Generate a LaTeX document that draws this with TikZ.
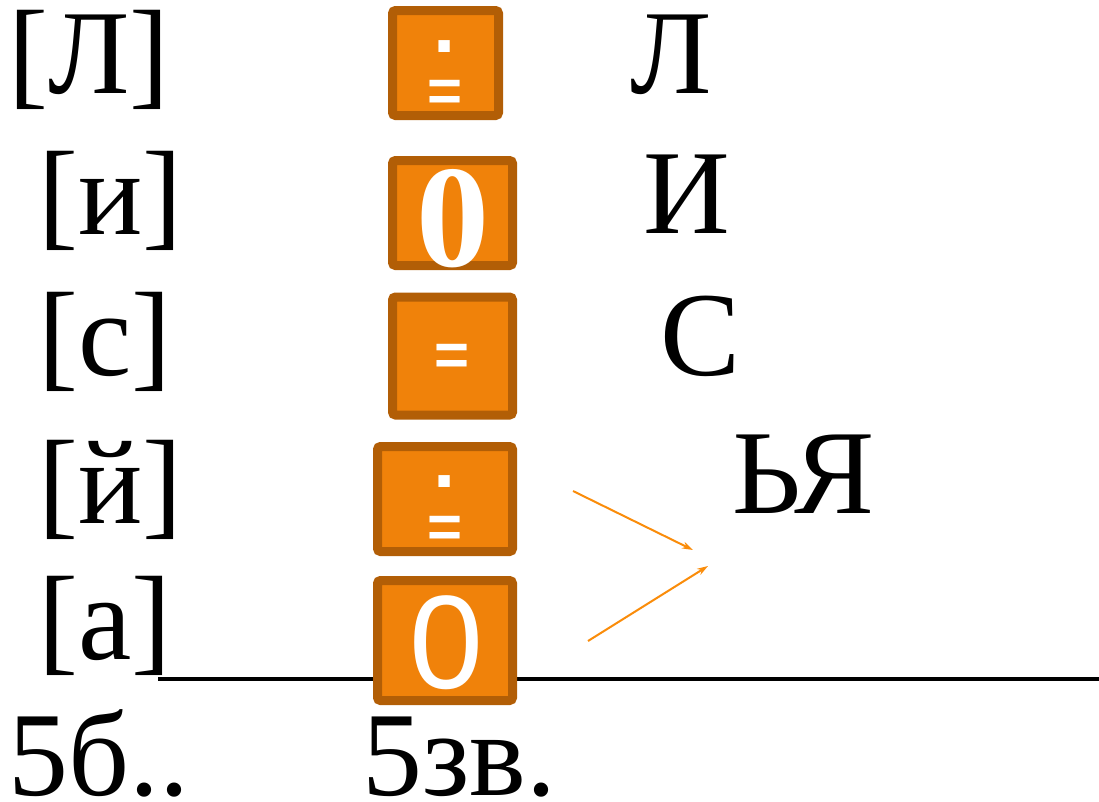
\documentclass[tikz,border=0pt]{standalone}
\usepackage{fontspec}
\setmainfont{Liberation Serif}
\newfontfamily\boxsans{Liberation Sans}
\usetikzlibrary{
  arrows.meta,
  positioning
}
\definecolor{boxfill}{RGB}{240,130,10}
\definecolor{boxedge}{RGB}{178,94,6}
\definecolor{arrowor}{RGB}{250,140,10}
\tikzset{
  % Sound / letter text
  soundtext/.style={
    anchor=base west, inner sep=0pt,
    font=\fontsize{120}{130}\selectfont
  },
  % Orange letter box
  letterbox/.style 2 args={
    rectangle, rounded corners=3pt,
    draw=boxedge, fill=boxfill, line width=9pt,
    inner sep=0pt, minimum width=#1, minimum height=#2
  },
  % White sign in a box
  signeq/.style={
    anchor=center, inner sep=0pt, text=white,
    font=\boxsans\bfseries\fontsize{60}{60}\selectfont
  },
  signdot/.style={
    anchor=base, inner sep=0pt, text=white,
    font=\boxsans\bfseries\fontsize{80}{80}\selectfont
  },
  % Thin orange arrow
  flowarrow/.style={
    -{Stealth[length=11pt,width=7pt]}, line width=2pt, draw=arrowor
  },
}
\begin{document}
\begin{tikzpicture}[x=1pt, y=-1pt]
\useasboundingbox (0,0) rectangle (1099,801);

% ── Transcription column ─────────────────────────────────────────────
\node[soundtext] (sL) at (8,93)  {[Л]};
\node[soundtext] (sI) at (38,234) {[и]};
\node[soundtext] (sS) at (38,375) {[с]};
\node[soundtext] (sJ) at (38,523) {[й]};
\node[soundtext] (sA) at (38,659) {[а]};
\node[soundtext] (cntb) at (8,795) {5б..};

% ── Base line ────────────────────────────────────────────────────────
\coordinate (lineL) at (158,679);
\coordinate (lineR) at (1099,679);
\draw[line width=4.5pt] (lineL) -- (lineR);

% ── Letter boxes ─────────────────────────────────────────────────────
\node[letterbox={106pt}{105pt}] (box1) at (445.5,63)  {};
\node[letterbox={120pt}{105pt}] (box2) at (452.5,213) {};
\node[letterbox={120pt}{118pt}] (box3) at (452.5,356) {};
\node[letterbox={135pt}{105pt}] (box4) at (445,499)   {};
\node[letterbox={135pt}{120pt}] (box5) at (445,640.5) {};

\node[signdot] (dot1) at (445,52)  {.};
\node[signeq]  (eq1)  at (445,96)  {=};
\node[anchor=base, inner sep=0pt, text=white,
      font=\bfseries\fontsize{146}{146}\selectfont]
  (zero2) at (453,266) {0};
\node[signeq]  (eq3)  at (452,360) {=};
\node[signdot] (dot4) at (445,487) {.};
\node[signeq]  (eq4)  at (445,532) {=};
\node[anchor=base, inner sep=0pt, text=white,
      font=\boxsans\fontsize{133}{133}\selectfont]
  (zero5) at (446,688) {0};

\node[soundtext] (cntz) at (362,795) {5зв.};

% ── Letter column ────────────────────────────────────────────────────
\node[soundtext] (lL)  at (630,93)  {Л};
\node[soundtext] (lI)  at (643,233) {И};
\node[soundtext] (lS)  at (660,375) {С};
\node[soundtext] (lJA) at (732,513) {ЬЯ};

% ── Arrows to ЬЯ ─────────────────────────────────────────────────────
\coordinate (arrJs) at (573,491);
\coordinate (arrJe) at (693,550);
\coordinate (arrAs) at (588,641);
\coordinate (arrAe) at (708,566);
\draw[flowarrow] (arrJs) -- (arrJe);
\draw[flowarrow] (arrAs) -- (arrAe);

\end{tikzpicture}
\end{document}
